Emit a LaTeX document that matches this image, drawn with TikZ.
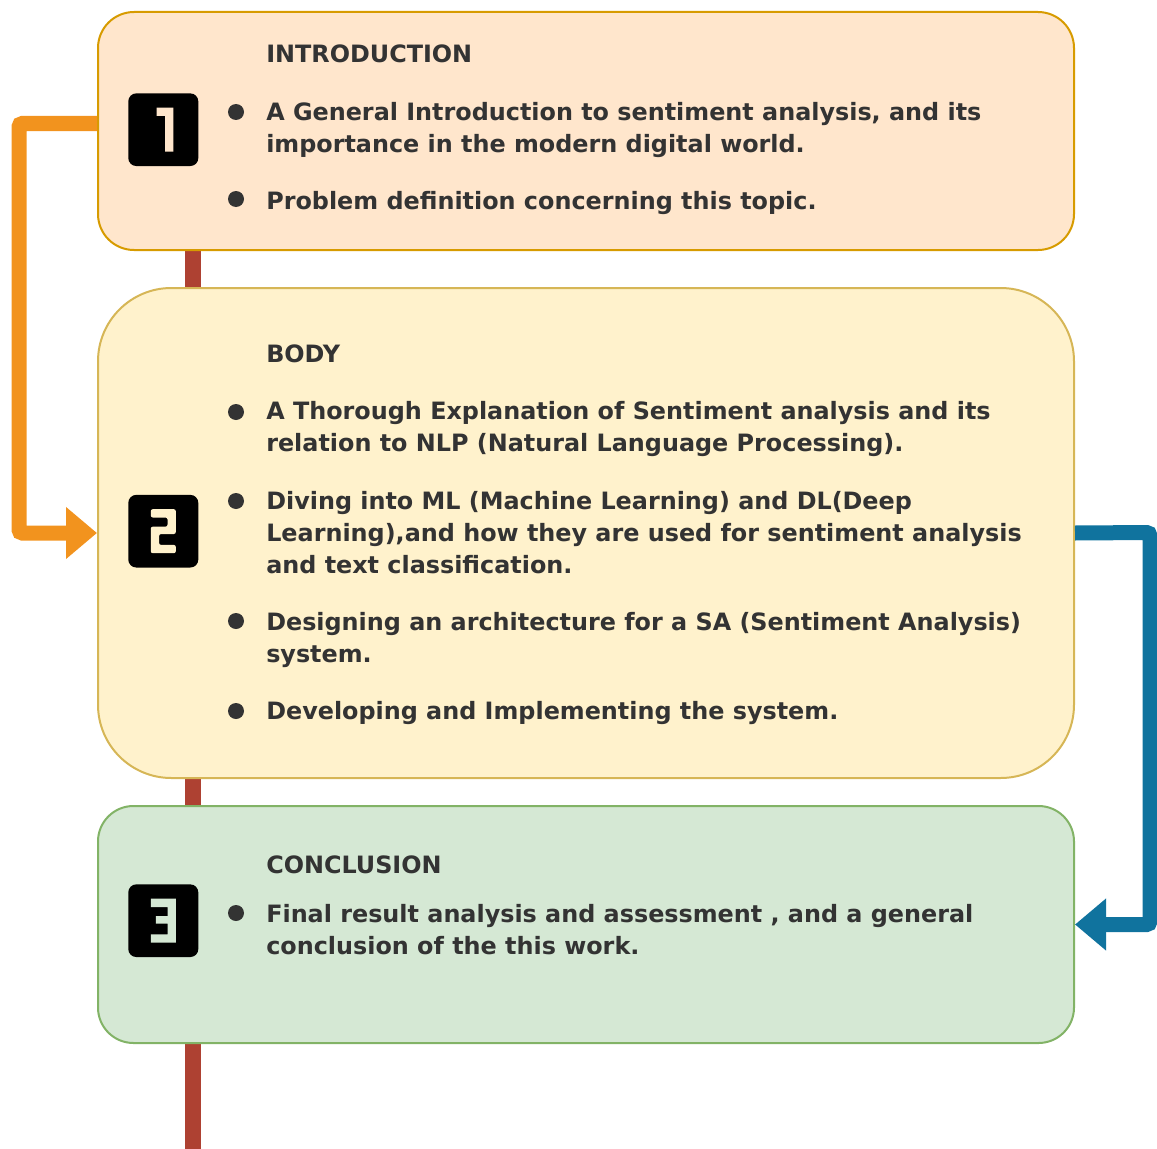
\documentclass[tikz,border=0pt]{standalone}
\usepackage{fontspec}
\setmainfont{DejaVu Sans}
\usetikzlibrary{arrows.meta,backgrounds}

\definecolor{introfill}{HTML}{FFE6CC}
\definecolor{introline}{HTML}{D79B00}
\definecolor{bodyfill}{HTML}{FFF2CC}
\definecolor{bodyline}{HTML}{D6B656}
\definecolor{endfill}{HTML}{D5E8D4}
\definecolor{endline}{HTML}{82B366}
\definecolor{ink}{HTML}{333333}
\definecolor{floworange}{HTML}{F2931E}
\definecolor{flowblue}{HTML}{10739E}
\definecolor{spine}{HTML}{AE4132}

\begin{document}
\begin{tikzpicture}[x=0.75pt,y=-0.75pt,
  section/.style={draw, line width=1.5pt, minimum width=732pt, inner sep=0pt},
  badge/.style={fill=black, rounded corners=6pt, minimum width=52.5pt,
    minimum height=54.5pt, inner sep=0pt},
  % anchored on the baseline of the last line
  label/.style={anchor=base west, inner sep=0pt, align=left, text=ink,
    font=\fontsize{17.9pt}{24pt}\selectfont\bfseries},
  dot/.style={circle, fill=ink, minimum size=12pt, inner sep=0pt},
  link/.style={line width=11.25pt, rounded corners=2.5pt,
    -{Triangle[length=23.25pt,width=37.5pt]}},
  timeline/.style={line width=12pt, draw=spine}
]
\useasboundingbox (0,0) rectangle (1157,1149);

% the three sections
\node[section, fill=introfill, draw=introline, minimum height=178.5pt,
  rounded corners=27pt] (box1) at (586,131) {};
\node[section, fill=bodyfill, draw=bodyline, minimum height=367.5pt,
  rounded corners=55pt] (box2) at (586,533) {};
\node[section, fill=endfill, draw=endline, minimum height=177.75pt,
  rounded corners=26.6pt] (box3) at (586,924.5) {};

% vertical spine behind the sections
\coordinate (tlend) at (193,1149);
\begin{scope}[on background layer]
  \draw[timeline] (box1.south -| tlend) -- (tlend);
\end{scope}

% numbered badges
\node[badge] (n1) at (163.3,129.7) {};
\node[badge] (n2) at (163.3,531.2) {};
\node[badge] (n3) at (163.3,920.7) {};
\fill[introfill, shift={(n1.center)}]
  (-6.6,-22) -- (10,-22) -- (10,22) -- (1.7,22) -- (1.7,-13.7) -- (-6.6,-13.7) -- cycle;
\fill[bodyfill, rounded corners=1.5pt, shift={(n2.center)}]
  (-12.5,-22) -- (12.5,-22) -- (12.5,2.8) -- (-4.2,2.8) -- (-4.2,13.7)
  -- (12.5,13.7) -- (12.5,22) -- (-12.5,22) -- (-12.5,-4.5) -- (4.2,-4.5)
  -- (4.2,-13.7) -- (-12.5,-13.7) -- cycle;
\fill[endfill, shift={(n3.center)}]
  (-12.5,-22) -- (12.5,-22) -- (12.5,22) -- (-12.5,22) -- (-12.5,13.7)
  -- (4.2,13.7) -- (4.2,2.8) -- (-7.5,2.8) -- (-7.5,-4.5) -- (4.2,-4.5)
  -- (4.2,-13.7) -- (-12.5,-13.7) -- cycle;

% section 1
\node[label] (t1) at (266,63) {INTRODUCTION};
\node[dot] (d11) at (236,112) {};
\node[label] (p11) at (266,152) {A General Introduction to sentiment analysis, and its\\importance in the modern digital world.};
\node[dot] (d12) at (236,199) {};
\node[label] (p12) at (266,209) {Problem definition concerning this topic.};

% section 2
\node[label] (t2) at (266,362) {BODY};
\node[dot] (d21) at (236,412) {};
\node[label] (p21) at (266,451) {A Thorough Explanation of Sentiment analysis and its\\relation to NLP (Natural Language Processing).};
\node[dot] (d22) at (236,501) {};
\node[label] (p22) at (266,573) {Diving into ML (Machine Learning) and DL(Deep\\Learning),and how they are used for sentiment analysis\\and text classification.};
\node[dot] (d23) at (236,621) {};
\node[label] (p23) at (266,662) {Designing an architecture for a SA (Sentiment Analysis)\\system.};
\node[dot] (d24) at (236,711) {};
\node[label] (p24) at (266,719) {Developing and Implementing the system.};

% section 3
\node[label] (t3) at (266,873) {CONCLUSION};
\node[dot] (d31) at (236,913) {};
\node[label] (p31) at (266,954) {Final result analysis and assessment , and a general\\conclusion of the this work.};

% flow arrows
\coordinate (oturn) at (19,123.5);
\draw[link, floworange] (box1.west |- oturn) -- (oturn) -- (oturn |- box2.west) -- (box2.west);
\coordinate (bturn) at (1150,532.5);
\draw[link, flowblue] (box2.east) -- (bturn) -- (bturn |- box3.east) -- (box3.east);
\end{tikzpicture}
\end{document}
